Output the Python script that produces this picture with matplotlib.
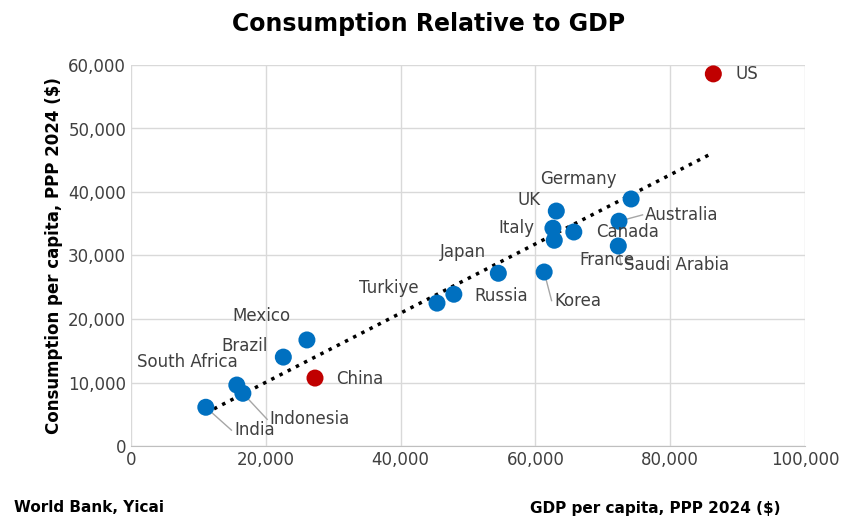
import numpy as np
import matplotlib.pyplot as plt

countries = ["US", "China", "India", "South Africa", "Indonesia", "Brazil", "Mexico",
             "Turkiye", "Russia", "Japan", "Korea", "France", "Italy", "UK", "Canada",
             "Saudi Arabia", "Australia", "Germany"]
gdp = [86.4, 27.3, 11.1, 15.7, 16.6, 22.6, 26.1, 45.4, 47.9, 54.5, 61.3, 62.8, 62.6,
       63.1, 65.7, 72.3, 72.4, 74.2]
cons = [58.6, 10.7, 6.1, 9.6, 8.3, 14.0, 16.7, 22.5, 23.9, 27.2, 27.4, 32.4, 34.3,
        37.0, 33.7, 31.5, 35.4, 38.9]
red = {"US", "China"}

# label offsets in data units (thousands), and whether a leader line is drawn
labels = {
    "US": (3.3, 0, False), "China": (3.1, -0.2, False), "India": (4.2, -3.6, True),
    "South Africa": (-14.8, 3.6, False), "Indonesia": (4.0, -4.1, True),
    "Brazil": (-9.2, 1.7, False), "Mexico": (-11.0, 3.8, False),
    "Turkiye": (-11.6, 2.4, False), "Russia": (3.1, -0.3, False),
    "Japan": (-8.7, 3.4, False), "Korea": (1.5, -4.5, True),
    "France": (3.7, -3.1, False), "Italy": (-8.1, 0.0, False), "UK": (-5.8, 1.7, False),
    "Canada": (3.3, 0.0, False), "Saudi Arabia": (0.8, -3.0, True),
    "Australia": (3.9, 1.0, True), "Germany": (-13.5, 3.1, False),
}

fig = plt.figure(figsize=(8.58, 5.25), dpi=100)
ax = fig.add_axes([131/858, 1-446/525, 674/858, 381/525])

for c, x, y in zip(countries, gdp, cons):
    col = "#C00000" if c in red else "#0070C0"
    ax.scatter(x*1000, y*1000, s=150, color=col, zorder=3, edgecolors="none")
    dx, dy, line = labels[c]
    ax.text((x+dx)*1000, (y+dy)*1000, c, fontsize=12, color="#404040",
            va="center", ha="left", zorder=4)
    if line:
        ax.plot([x*1000, (x+dx-0.4)*1000], [y*1000, (y+dy)*1000], color="#a6a6a6", lw=1, zorder=2)

k = np.polyfit(gdp, cons, 1)
xs = np.array([min(gdp), max(gdp)])
ax.plot(xs*1000, np.polyval(k, xs)*1000, ":", color="black", lw=2.5, zorder=2)

ax.set_xlim(0, 100000)
ax.set_ylim(0, 60000)
ax.set_xticks(range(0, 100001, 20000))
ax.set_yticks(range(0, 60001, 10000))
ax.xaxis.set_major_formatter(plt.FuncFormatter(lambda v, p: f"{int(v):,}"))
ax.yaxis.set_major_formatter(plt.FuncFormatter(lambda v, p: f"{int(v):,}"))
ax.tick_params(labelsize=12, length=0, colors="#404040")
ax.grid(True, color="#d9d9d9", lw=1)
ax.set_axisbelow(True)
for s in ax.spines.values():
    s.set_visible(False)
ax.spines["bottom"].set_visible(True)
ax.spines["bottom"].set_color("#bfbfbf")

ax.set_ylabel("Consumption per capita, PPP 2024 ($)", fontsize=12, fontweight="bold")
fig.text(0.5, 0.955, "Consumption Relative to GDP", ha="center", va="center",
         fontsize=17, fontweight="bold")
fig.text(14/858, 1-508/525, "World Bank, Yicai", fontsize=11, fontweight="bold", va="center")
fig.text(780/858, 1-508/525, "GDP per capita, PPP 2024 ($)", fontsize=11,
         fontweight="bold", va="center", ha="right")

fig.savefig("out.png", dpi=100)
